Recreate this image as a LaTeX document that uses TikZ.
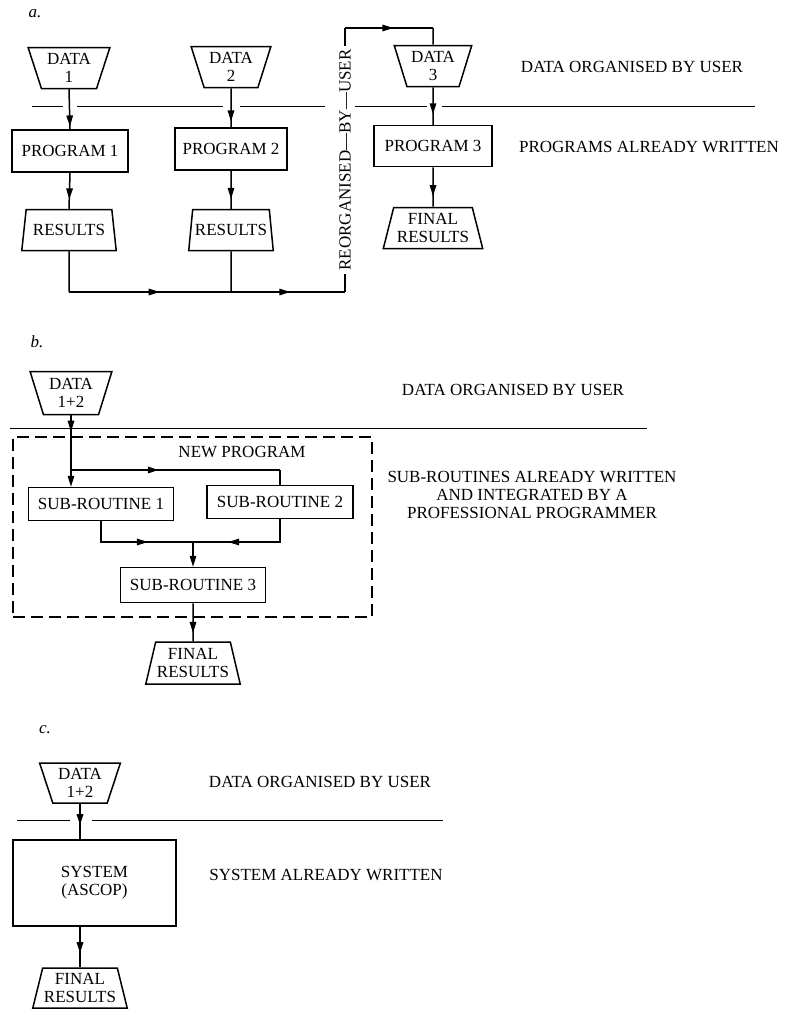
\documentclass[tikz,border=0pt]{standalone}
\usepackage{fontspec}
\setmainfont{Liberation Serif}
\usetikzlibrary{shapes.geometric,arrows.meta,decorations.markings}
\newcommand\myfs{\fontsize{17}{18}\selectfont}
\begin{document}
\begin{tikzpicture}[x=1pt,y=-1pt,
 line width=1.5pt,
 every node/.style={font=\myfs},
 >={Triangle[length=11pt,width=6.5pt]},
 am/.style={postaction={decorate,decoration={markings,mark=at position #1 with {\arrow{>}}}}},
 box/.style={draw, rectangle, inner sep=0pt, align=center},
 dat/.style={draw, trapezium, trapezium left angle=70, trapezium right angle=70, trapezium stretches=true, shape border rotate=180, inner sep=0pt, align=center, minimum height=41},
 res/.style={draw, trapezium, trapezium left angle=72, trapezium right angle=72, trapezium stretches=true, inner sep=0pt, align=center, minimum height=41},
 sep/.style={line width=0.8pt},
 lab/.style={align=center, inner sep=0pt},
]
\useasboundingbox (0,0) rectangle (786,1010);

% ---------------- a ----------------
\node[lab] (la) at (35,14) {\textit{a.}};
\node[dat, minimum width=82] (data1) at (69,68) {DATA\\1};
\node[box, minimum width=116, minimum height=42] (prog1) at (70,151) {PROGRAM 1};
\node[res, minimum width=95] (res1) at (69,230) {RESULTS};
\node[dat, minimum width=80] (data2) at (231,67) {DATA\\2};
\node[box, minimum width=112, minimum height=42] (prog2) at (231,149) {PROGRAM 2};
\node[res, minimum width=85] (res2) at (231,230) {RESULTS};
\node[dat, minimum width=78] (data3) at (433,66) {DATA\\3};
\node[box, minimum width=118, minimum height=41] (prog3) at (433,146) {PROGRAM 3};
\node[res, minimum width=100] (fin3) at (433,228) {FINAL\\RESULTS};
\node[lab] (ta1) at (632,67) {DATA ORGANISED BY USER};
\node[lab] (ta2) at (649,147) {PROGRAMS ALREADY WRITTEN};

\draw[sep] (32,106) -- (63,106) (77,106) -- (223,106) (240,106) -- (325,106)
  (355,106) -- (427,106) (442,106) -- (755,106);

\draw[am=0.93] (data1.south) -- (prog1.north);
\draw[am=0.85] (data2.south) -- (prog2.north);
\draw[am=0.72] (data3.south) -- (prog3.north);
\draw[am=0.74] (prog1.south) -- (res1.north);
\draw[am=0.74] (prog2.south) -- (res2.north);
\draw[am=0.73] (prog3.south) -- (fin3.north);

\coordinate (ja) at (69,292);
\coordinate (jb) at (231,292);
\coordinate (jc) at (345,292);
\coordinate (jd) at (345,28);
\coordinate (je) at (433,28);
\draw (res1.south) -- (ja);
\draw[am=0.56] (ja) -- (jb);
\draw (res2.south) -- (jb);
\draw[am=0.52] (jb) -- (jc);
\draw (jc) -- (jd) node[midway, fill=white, rotate=90, inner sep=3pt] {REORGANISED---BY---USER};
\draw[am=0.55] (jd) -- (je);
\draw (je) -- (data3.north);

% ---------------- b ----------------
\node[lab] (lb) at (37,342) {\textit{b.}};
\node[dat, minimum width=82, minimum height=43] (datab) at (71,393) {DATA\\1+2};
\draw[sep] (10,428) -- (647,428);
\node[draw, dashed, dash pattern=on 12pt off 6pt, line width=1.5pt, minimum width=359, minimum height=180, inner sep=0pt] (np) at (192.5,527) {};
\node[lab] (npt) at (242,452) {NEW PROGRAM};
\node[box, minimum width=145, minimum height=33] (sub1) at (101,504) {SUB-ROUTINE 1};
\node[box, minimum width=146, minimum height=33] (sub2) at (280,502) {SUB-ROUTINE 2};
\node[box, minimum width=145, minimum height=35] (sub3) at (193,585) {SUB-ROUTINE 3};
\node[res, minimum width=95, minimum height=42] (finb) at (193,663) {FINAL\\RESULTS};
\node[lab] (tb1) at (513,390) {DATA ORGANISED BY USER};
\node[lab] (tb2) at (532,495) {SUB-ROUTINES ALREADY WRITTEN\\AND INTEGRATED BY A\\PROFESSIONAL PROGRAMMER};

\coordinate (bj) at (71,470);
\coordinate (bk) at (280,470);
\coordinate (bm) at (193,542);
\draw[am=0.23, ->] (datab.south) -- (datab.south |- sub1.north);
\draw[am=0.42] (bj) -- (bk);
\draw (bk) -- (sub2.north);
\draw[am=0.6] (sub1.south) |- (bm);
\draw[am=0.68] (sub2.south) |- (bm);
\draw[->] (bm) -- (sub3.north);
\draw[am=0.78] (sub3.south) -- (finb.north);

% ---------------- c ----------------
\node[lab] (lc) at (45,730) {\textit{c.}};
\node[dat, minimum width=81, minimum height=40] (datac) at (80,783) {DATA\\1+2};
\draw[sep] (17,820) -- (70,820) (92,820) -- (443,820);
\node[box, minimum width=163, minimum height=86] (sys) at (94.5,883) {SYSTEM\\(ASCOP)};
\node[res, minimum width=95, minimum height=40] (finc) at (80,988) {FINAL\\RESULTS};
\node[lab] (tc1) at (320,782) {DATA ORGANISED BY USER};
\node[lab] (tc2) at (326,875) {SYSTEM ALREADY WRITTEN};

\draw[am=0.6] (datac.south) -- (datac.south |- sys.north);
\draw[am=0.65] (finc.north |- sys.south) -- (finc.north);
\end{tikzpicture}
\end{document}
